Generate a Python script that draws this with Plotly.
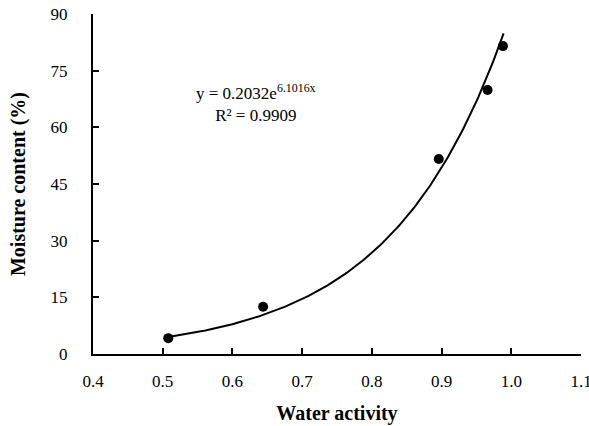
import numpy as np
import plotly.graph_objects as go

# Observed data
water_activity = [0.508, 0.644, 0.896, 0.966, 0.988]
moisture_content = [4.2, 12.5, 51.6, 69.9, 81.5]

# Exponential trendline coefficients shown on the chart
coef_a = 0.2032
coef_b = 6.1016
trend_start, trend_end = 0.508, 0.989

x_tick_vals = [0.4, 0.5, 0.6, 0.7, 0.8, 0.9, 1.0, 1.1]
x_tick_text = ["0.4", "0.5", "0.6", "0.7", "0.8", "0.9", "1.0", "1.1"]
y_tick_vals = [0, 15, 30, 45, 60, 75, 90]

trend_x = np.linspace(trend_start, trend_end, 200)
trend_y = coef_a * np.exp(coef_b * trend_x)

font_family = "Liberation Serif, Times New Roman, serif"

fig = go.Figure()
fig.add_trace(go.Scatter(x=trend_x, y=trend_y, mode="lines",
                         line=dict(color="black", width=2), showlegend=False,
                         hoverinfo="skip"))
fig.add_trace(go.Scatter(x=water_activity, y=moisture_content, mode="markers",
                         marker=dict(color="black", size=10), showlegend=False))

fig.add_annotation(x=0.634, y=66.5, xref="x", yref="y",
                   text="y = 0.2032e<sup>6.1016x</sup><br>R² = 0.9909",
                   showarrow=False, align="center",
                   font=dict(family=font_family, size=17, color="black"))

fig.update_layout(
    width=589, height=426,
    margin=dict(l=93, r=8, t=14, b=72, autoexpand=False),
    paper_bgcolor="white", plot_bgcolor="white",
    font=dict(family=font_family, size=17, color="black"),
    xaxis=dict(range=[0.4, 1.1], tickvals=x_tick_vals, ticktext=x_tick_text,
               ticks="inside", ticklen=6, tickwidth=1.5, tickcolor="black",
               showline=True, linecolor="black", linewidth=2,
               showgrid=False, zeroline=False, automargin=False,
               tickfont=dict(size=17, family=font_family),
               ticklabelstandoff=11, ticklabeloverflow="allow",
               title=dict(text="<b>Water activity</b>", standoff=16,
                          font=dict(size=20, family=font_family))),
    yaxis=dict(range=[0, 90], tickvals=y_tick_vals,
               ticks="inside", ticklen=6, tickwidth=1.5, tickcolor="black",
               showline=True, linecolor="black", linewidth=2,
               showgrid=False, zeroline=False, automargin=False,
               tickfont=dict(size=17, family=font_family),
               ticklabelstandoff=20, ticklabeloverflow="allow",
               title=dict(text="<b>Moisture content (%)</b>", standoff=20,
                          font=dict(size=20, family=font_family))),
)

fig.write_html("out.html",
               config={"displayModeBar": False},
               post_script="document.body.style.margin='0';"
                           "document.body.style.overflow='hidden';")
